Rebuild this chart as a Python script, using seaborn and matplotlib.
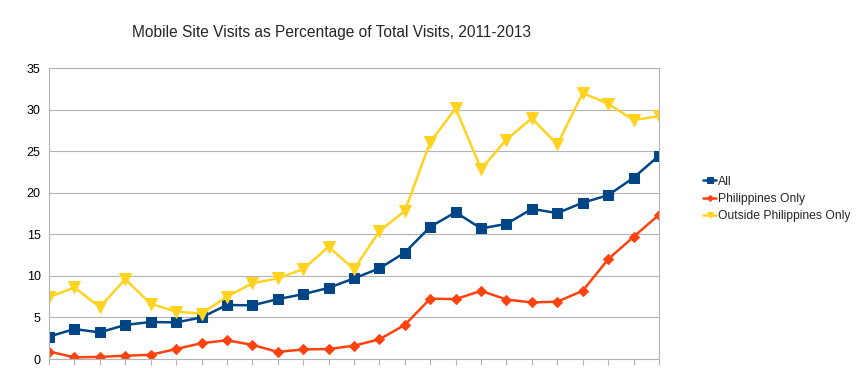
import pandas as pd
import matplotlib.pyplot as plt
import seaborn as sns

# データ
months = list(range(25))
all_visits = [2.7, 3.6, 3.2, 4.1, 4.45, 4.4, 5.0, 6.5, 6.45, 7.2, 7.8, 8.55,
              9.7, 10.9, 12.8, 15.9, 17.65, 15.7, 16.25, 18.05, 17.55, 18.8, 19.7, 21.8, 24.45]
ph_only = [0.9, 0.2, 0.25, 0.4, 0.5, 1.2, 1.9, 2.25, 1.7, 0.85, 1.15, 1.2,
           1.6, 2.37, 4.1, 7.26, 7.2, 8.2, 7.15, 6.8, 6.9, 8.2, 12.0, 14.7, 17.35]
outside_ph = [7.45, 8.6, 6.25, 9.6, 6.65, 5.7, 5.45, 7.5, 9.1, 9.7, 10.8, 13.5,
              10.8, 15.4, 17.8, 26.1, 30.15, 22.85, 26.4, 28.95, 25.8, 32.0, 30.7, 28.75, 29.2]

series_names = ['All', 'Philippines Only', 'Outside Philippines Only']
colors = ['#004586', '#ff420e', '#ffd320']
markers = ['s', 'D', 'v']
msizes = [7.5, 5, 8]

df = pd.DataFrame({'month': months, series_names[0]: all_visits,
                   series_names[1]: ph_only, series_names[2]: outside_ph})

sns.set_theme(style='white')
plt.rcParams['font.family'] = ['Liberation Sans', 'DejaVu Sans']

fig = plt.figure(figsize=(8.58, 3.68), dpi=100)
# プロット領域（ピクセルから換算）
ax = fig.add_axes([49 / 858, 1 - 359 / 368, 610 / 858, 291 / 368])

for name, c, m, ms in zip(series_names, colors, markers, msizes):
    sns.lineplot(data=df, x='month', y=name, ax=ax, color=c, marker=m,
                 markersize=ms, markeredgecolor=c, linewidth=1.8, label=name)

ax.set_xlim(0, 24)
ax.set_ylim(0, 35)
ax.set_xticks(months)
ax.set_xticklabels([])
ax.set_yticks(range(0, 36, 5))
ax.set_xlabel('')
ax.set_ylabel('')
ax.grid(axis='y', color='#b3b3b3', linewidth=0.8)
ax.grid(axis='x', visible=False)
ax.tick_params(axis='x', length=4, color='#b3b3b3', width=0.8, bottom=True)
ax.tick_params(axis='y', length=0, pad=6, labelsize=9, labelcolor='#000000')
for s in ax.spines.values():
    s.set_color('#b3b3b3')
    s.set_linewidth(0.8)

ax.legend_.remove()
handles, labels = ax.get_legend_handles_labels()
fig.legend(handles, labels, loc='center left', bbox_to_anchor=(697 / 858, 1 - 199 / 368),
           frameon=False, fontsize=8.7, handlelength=1.1, handletextpad=0.15,
           labelspacing=0.45, borderpad=0, markerscale=0.6)

fig.text(331 / 858, 1 - 33 / 368, 'Mobile Site Visits as Percentage of Total Visits, 2011-2013',
         ha='center', va='center', fontsize=11.2)

plt.savefig('out.png', dpi=100)
